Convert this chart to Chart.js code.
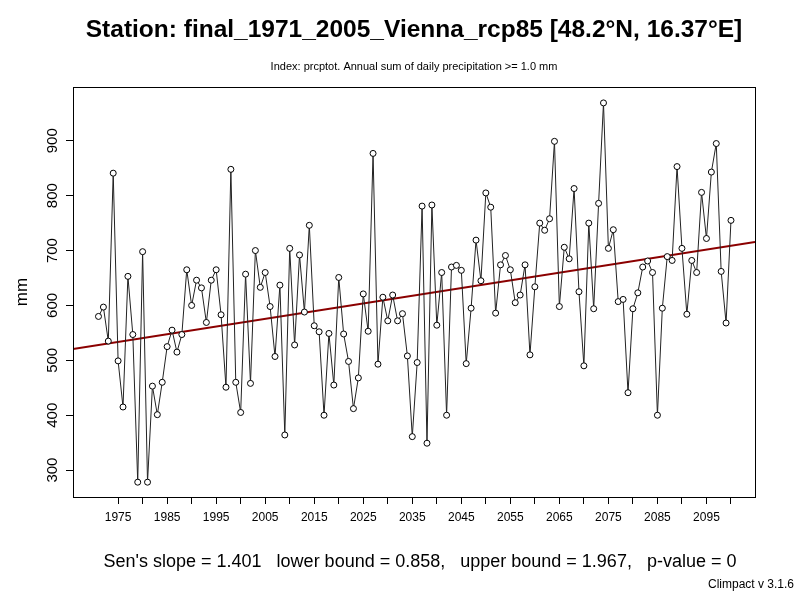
<!DOCTYPE html>
<html>
<head>
<meta charset="utf-8">
<script src="https://cdn.jsdelivr.net/npm/chart.js@4"></script>
<style>
  html, body { margin: 0; padding: 0; background: #fff; }
  #wrap { width: 800px; height: 600px; }
</style>
</head>
<body>
<div id="wrap"><canvas id="c"></canvas></div>
<script>
// annual precipitation totals (mm), 1971-2100
const firstYear = 1971;
const prcptot = [
  580, 597, 535, 841, 499, 415, 653, 547, 278, 698,
  278, 453, 401, 460, 525, 555, 515, 547, 665, 600,
  646, 632, 569, 646, 665, 583, 451, 848, 460, 405,
  657, 458, 700, 633, 660, 598, 507, 637, 364, 704,
  528, 692, 588, 746, 563, 552, 400, 549, 455, 651,
  548, 498, 412, 468, 621, 553, 877, 493, 615, 572,
  619, 572, 585, 508, 361, 496, 781, 349, 783, 564,
  660, 400, 670, 673, 664, 494, 595, 719, 645, 805,
  779, 586, 674, 691, 665, 605, 619, 674, 510, 634,
  750, 737, 758, 899, 598, 706, 685, 813, 625, 490,
  750, 594, 786, 969, 704, 738, 607, 611, 441, 594,
  623, 670, 681, 660, 400, 595, 689, 682, 853, 704,
  584, 682, 660, 806, 722, 843, 895, 662, 568, 755
];
const years = prcptot.map((_, i) => firstYear + i);

// Sen's slope trend
const senSlope = 1.401;
const trendAt1971 = 528;
const xMin = 1965.8, xMax = 2104.9;
const yMin = 251, yMax = 998;
const yTicks = [300, 400, 500, 600, 700, 800, 900];

const points = years.map((y, i) => ({ x: y, y: prcptot[i] }));
const trend = [xMin, xMax].map(x => ({ x: x, y: trendAt1971 + senSlope * (x - firstYear) }));

const textPlugin = {
  id: "texts",
  afterDraw(chart) {
    const ctx = chart.ctx;
    const a = chart.chartArea;
    ctx.save();
    ctx.strokeStyle = "#000";
    ctx.lineWidth = 1;
    ctx.strokeRect(a.left + 0.5, a.top + 0.5, a.right - a.left, a.bottom - a.top);
    ctx.fillStyle = "#000";
    ctx.textAlign = "center";
    ctx.textBaseline = "middle";
    ctx.font = "bold 24.5px 'Liberation Sans', Arial, sans-serif";
    ctx.fillText("Station: final_1971_2005_Vienna_rcp85 [48.2°N, 16.37°E]", 414, 30);
    ctx.font = "11px 'Liberation Sans', Arial, sans-serif";
    ctx.fillText("Index: prcptot. Annual sum of daily precipitation >= 1.0 mm", 414, 67);
    ctx.font = "18px 'Liberation Sans', Arial, sans-serif";
    ctx.fillText("Sen's slope = 1.401   lower bound = 0.858,   upper bound = 1.967,   p-value = 0", 420, 562);
    ctx.textAlign = "right";
    ctx.font = "12px 'Liberation Sans', Arial, sans-serif";
    ctx.fillText("Climpact v 3.1.6", 794, 585);
    // rotated y tick labels and axis title
    const ys = chart.scales.y;
    ctx.font = "15px 'Liberation Sans', Arial, sans-serif";
    ctx.textAlign = "center";
    yTicks.forEach(v => {
      ctx.save();
      ctx.translate(53, ys.getPixelForValue(v));
      ctx.rotate(-Math.PI / 2);
      ctx.fillText(String(v), 0, 0);
      ctx.restore();
    });
    ctx.font = "17px 'Liberation Sans', Arial, sans-serif";
    ctx.translate(22, (a.top + a.bottom) / 2);
    ctx.rotate(-Math.PI / 2);
    ctx.fillText("mm", 0, 0);
    ctx.restore();
  }
};

new Chart(document.getElementById("c"), {
  type: "line",
  data: {
    datasets: [
      {
        data: points,
        borderColor: "#222",
        borderWidth: 1,
        pointRadius: 3,
        pointBackgroundColor: "#fff",
        pointBorderColor: "#000",
        pointBorderWidth: 1,
        tension: 0
      },
      {
        data: trend,
        borderColor: "#8b0000",
        borderWidth: 2,
        pointRadius: 0
      }
    ]
  },
  options: {
    responsive: true,
    maintainAspectRatio: false,
    animation: false,
    layout: { padding: { top: 87, right: 45, left: 0, bottom: 0 } },
    plugins: { legend: { display: false }, tooltip: { enabled: false } },
    scales: {
      x: {
        type: "linear",
        min: xMin,
        max: xMax,
        afterBuildTicks: s => {
          const t = [];
          for (let v = 1975; v <= 2100; v += 5) t.push({ value: v });
          s.ticks = t;
        },
        afterFit: s => { s.height = 103; },
        grid: { drawOnChartArea: false, tickLength: 7, color: "#000" },
        border: { display: false },
        ticks: {
          autoSkip: false,
          maxRotation: 0,
          color: "#000",
          font: { size: 12, family: "'Liberation Sans', Arial, sans-serif" },
          padding: 6,
          callback: v => (v % 10 === 5 ? String(v) : "")
        }
      },
      y: {
        min: yMin,
        max: yMax,
        afterBuildTicks: s => { s.ticks = yTicks.map(v => ({ value: v })); },
        afterFit: s => { s.width = 73; },
        grid: { drawOnChartArea: false, tickLength: 7, color: "#000" },
        border: { display: false },
        ticks: { callback: () => "" }
      }
    }
  },
  plugins: [textPlugin]
});
</script>
</body>
</html>
